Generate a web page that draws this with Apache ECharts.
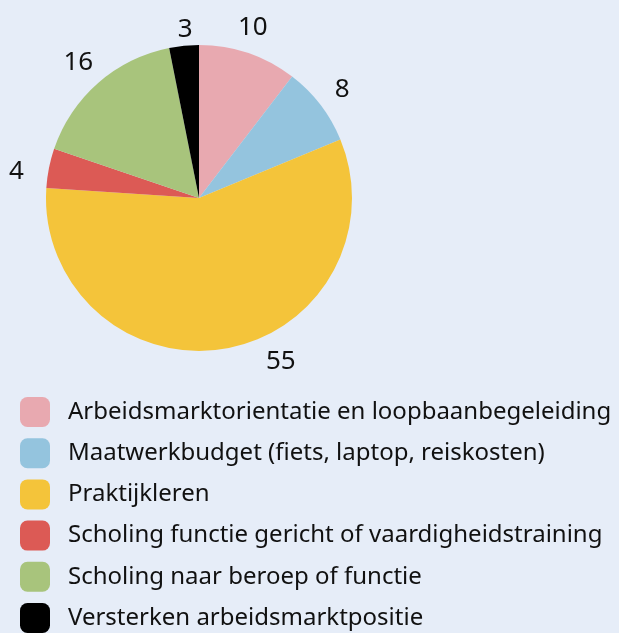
<!DOCTYPE html>
<html>
<head>
<meta charset="utf-8">
<script src="https://cdn.jsdelivr.net/npm/echarts@6/dist/echarts.min.js"></script>
<style>
html,body{margin:0;padding:0;background:#E6EDF8;}
#c{width:619px;height:633px;}
</style>
</head>
<body>
<div id="c"></div>
<script>
const categories = [
  'Arbeidsmarktorientatie en loopbaanbegeleiding',
  'Maatwerkbudget (fiets, laptop, reiskosten)',
  'Praktijkleren',
  'Scholing functie gericht of vaardigheidstraining',
  'Scholing naar beroep of functie',
  'Versterken arbeidsmarktpositie'
];
const values = [10, 8, 55, 4, 16, 3];
const colors = ['#E8A9B0', '#94C4DE', '#F4C43A', '#DC5A55', '#A8C47C', '#000000'];

const FONT = '"Noto Sans"';
// fit legend font size so the longest entry spans ~544px as in the reference
const cv = document.createElement('canvas').getContext('2d');
cv.font = '20px ' + FONT;
const w20 = cv.measureText(categories[0]).width;
const legendFont = Math.round(20 * 544 / w20 * 10) / 10;

// small label nudges to match the reference label placement
const labelOffsets = [[-5, 3], [-2, 3], [52, -17], [-3, 9], [0, 2], [4, 14]];

const chart = echarts.init(document.getElementById('c'), null, {renderer: 'canvas'});
const center = [199, 198];
const pieData = categories.map((n, i) => ({name: n, value: values[i], itemStyle: {color: colors[i]}}));
const labelData = categories.map((n, i) => ({name: n, value: values[i], label: {offset: labelOffsets[i]}}));
chart.setOption({
  backgroundColor: '#E6EDF8',
  animation: false,
  legend: {
    orient: 'vertical',
    left: 20,
    top: 397,
    height: 300,
    padding: 0,
    itemWidth: 30,
    itemHeight: 30,
    itemGap: 11.2,
    icon: 'roundRect',
    data: categories,
    textStyle: {fontFamily: FONT, fontSize: legendFont, color: '#111', padding: [0, 0, 0, 13]}
  },
  series: [
    {
      type: 'pie',
      center: center,
      radius: [0, 153],
      startAngle: 90,
      clockwise: true,
      label: {show: false},
      labelLine: {show: false},
      emphasis: {disabled: true},
      data: pieData
    },
    {
      type: 'pie',
      center: center,
      radius: [153, 207],
      startAngle: 90,
      clockwise: true,
      silent: true,
      itemStyle: {color: 'rgba(0,0,0,0)'},
      label: {show: true, position: 'inside', formatter: '{c}', fontFamily: FONT, fontSize: 26, color: '#111'},
      labelLine: {show: false},
      emphasis: {disabled: true},
      data: labelData
    }
  ]
});
</script>
</body>
</html>
